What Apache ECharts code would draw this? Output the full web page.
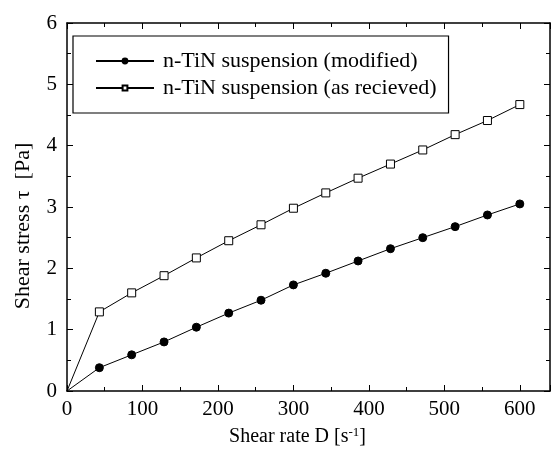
<!DOCTYPE html>
<html>
<head>
<meta charset="utf-8">
<script src="https://cdn.jsdelivr.net/npm/echarts@6/dist/echarts.min.js"></script>
<style>
  html, body { margin: 0; padding: 0; background: #fff; }
  #chart { width: 554px; height: 455px; }
</style>
</head>
<body>
<div id="chart"></div>
<script>
  // shear rate D [1/s]
  var shearRate = [0, 42.9, 85.7, 128.6, 171.4, 214.3, 257.1, 300, 342.9, 385.7, 428.6, 471.4, 514.3, 557.1, 600];
  // shear stress [Pa]
  var modified = [0, 0.38, 0.59, 0.80, 1.04, 1.27, 1.48, 1.73, 1.92, 2.12, 2.32, 2.50, 2.68, 2.87, 3.05];
  var asReceived = [0, 1.29, 1.60, 1.88, 2.17, 2.45, 2.71, 2.98, 3.23, 3.47, 3.70, 3.93, 4.18, 4.41, 4.67];
  var seriesNames = ['n-TiN suspension (modified)', 'n-TiN suspension (as recieved)'];

  var font = 'Liberation Serif';

  // origin point has no marker in the original
  function pairs(ys) {
    var out = [];
    for (var i = 0; i < ys.length; i++) {
      if (i === 0) out.push({ value: [shearRate[i], ys[i]], symbol: 'none' });
      else out.push([shearRate[i], ys[i]]);
    }
    return out;
  }

  var tickCommon = {
    axisLine: { show: true, onZero: false, lineStyle: { color: '#000', width: 1.5 } },
    axisTick: { show: true, inside: true, length: 6, lineStyle: { color: '#000', width: 1 } },
    minorTick: { show: true, splitNumber: 2, length: 4, lineStyle: { color: '#000', width: 1 } },
    splitLine: { show: false }
  };

  var myChart = echarts.init(document.getElementById('chart'));
  var option = {
    animation: false,
    backgroundColor: '#fff',
    grid: { left: 67, right: 4, top: 23, bottom: 64, show: false },
    legend: {
      orient: 'vertical',
      left: 73,
      top: 36,
      padding: [14, 12, 14, 22],
      itemGap: 5,
      itemWidth: 58,
      itemHeight: 6,
      borderColor: '#000',
      borderWidth: 1.2,
      borderRadius: 0,
      textStyle: { fontFamily: font, fontSize: 22, color: '#000', lineHeight: 22, padding: [0, 0, 0, 4] },
      data: seriesNames
    },
    xAxis: [
      Object.assign({
        type: 'value', min: 0, max: 640, interval: 100, position: 'bottom',
        name: 'Shear rate D [s{sup|-1}]',
        nameLocation: 'middle', nameGap: 35,
        nameTextStyle: {
          fontFamily: font, fontSize: 20, color: '#000', padding: [0, 22, 0, 0],
          rich: { sup: { fontFamily: font, fontSize: 13, color: '#000', verticalAlign: 'top', padding: [0, 0, 9, 0] } }
        },
        axisLabel: { fontFamily: font, fontSize: 21, color: '#000', margin: 8, showMaxLabel: false }
      }, tickCommon),
      Object.assign({
        type: 'value', min: 0, max: 640, interval: 100, position: 'top',
        axisLabel: { show: false }
      }, tickCommon)
    ],
    yAxis: [
      Object.assign({
        type: 'value', min: 0, max: 6, interval: 1, position: 'left',
        name: 'Shear stress τ  [Pa]',
        nameLocation: 'middle', nameGap: 33, nameRotate: 90,
        nameTextStyle: { fontFamily: font, fontSize: 22, color: '#000', padding: [0, 38, 0, 0] },
        axisLabel: { fontFamily: font, fontSize: 21, color: '#000', margin: 10 }
      }, tickCommon),
      Object.assign({
        type: 'value', min: 0, max: 6, interval: 1, position: 'right',
        axisLabel: { show: false }
      }, tickCommon)
    ],
    series: [
      {
        name: seriesNames[0],
        type: 'line',
        data: pairs(modified),
        symbol: 'circle',
        symbolSize: 8,
        showSymbol: true,
        lineStyle: { color: '#000', width: 1 },
        itemStyle: { color: '#000', borderColor: '#000', borderWidth: 1 }
      },
      {
        name: seriesNames[1],
        type: 'line',
        data: pairs(asReceived),
        symbol: 'rect',
        symbolSize: 8,
        showSymbol: true,
        lineStyle: { color: '#000', width: 1 },
        itemStyle: { color: '#fff', borderColor: '#000', borderWidth: 1 }
      }
    ]
  };
  myChart.setOption(option);
</script>
</body>
</html>
